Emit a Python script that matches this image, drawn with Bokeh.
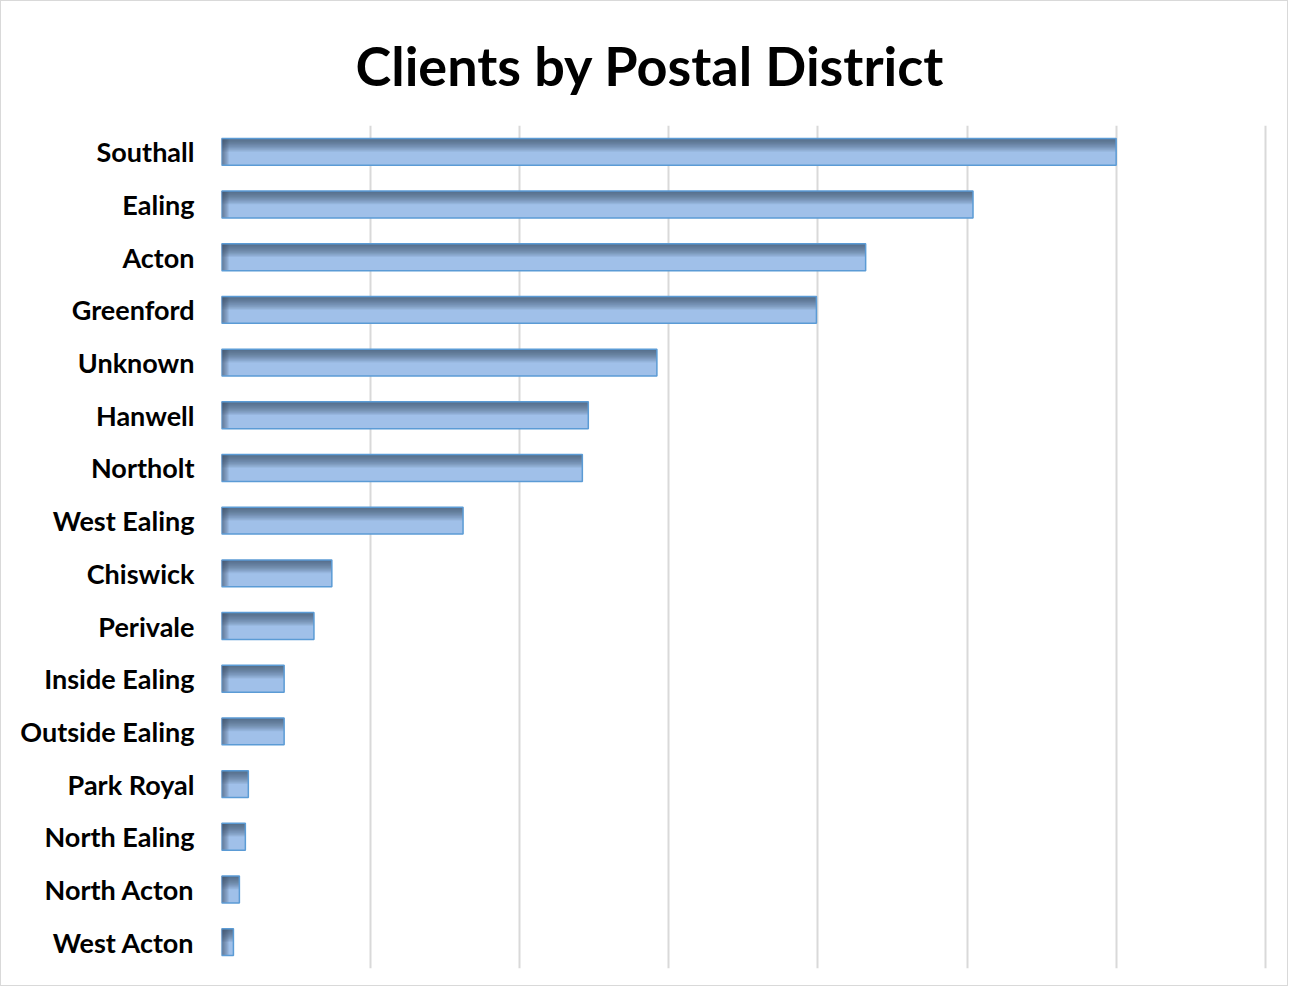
import numpy as np
from bokeh.plotting import figure
from bokeh.models import ColumnDataSource, FixedTicker
from bokeh.transform import dodge
from bokeh.embed import file_html
from bokeh.resources import INLINE

districts = ["Southall", "Ealing", "Acton", "Greenford", "Unknown", "Hanwell",
             "Northolt", "West Ealing", "Chiswick", "Perivale", "Inside Ealing",
             "Outside Ealing", "Park Royal", "North Ealing", "North Acton", "West Acton"]
clients = [600, 504, 432, 399, 292, 246, 242, 162, 74, 62, 42, 42, 18, 16, 12, 8]
grid_ticks = [0, 100, 200, 300, 400, 500, 600, 700]

factors = districts[::-1]
src = ColumnDataSource(dict(d=districts, v=clients))

p = figure(width=1288, height=986, y_range=factors, x_range=(0, 701.5),
           output_backend="svg", toolbar_location=None,
           min_border_left=220, min_border_right=22, min_border_top=124, min_border_bottom=19,
           styles={"border": "1px solid #d9d9d9"})

p.title.text = "Clients by Postal District"
p.title.text_font = "Lato"
p.title.text_font_size = "54px"
p.title.text_font_style = "bold"
p.title.text_color = "#000000"
p.title.align = "left"
p.title.offset = 134
p.title.standoff = 55

BH = 0.51
# base bar
p.hbar(y="d", right="v", left=0, height=BH, source=src,
       fill_color="#a0c0e9", line_color=None)
# top shading gradient
N = 12
for k in range(1, N + 1):
    h = 0.021 * k
    p.hbar(y=dodge("d", BH / 2 - h / 2, range=p.y_range), right="v", left=0, height=h,
           source=src, fill_color="#3b4c63", fill_alpha=0.09, line_color=None)
# left shading gradient
for k in range(1, 7):
    src_k = ColumnDataSource(dict(d=districts, v=list(np.minimum(np.array(clients), 0.8 * k))))
    p.hbar(y="d", right="v", left=0, height=BH, source=src_k,
           fill_color="#3b4c63", fill_alpha=0.13, line_color=None)
# outline
p.hbar(y="d", right="v", left=0, height=BH, source=src,
       fill_color=None, line_color="#5b9bd5", line_width=1.5)

p.xaxis.visible = False
p.xgrid.ticker = FixedTicker(ticks=grid_ticks)
p.xgrid.grid_line_color = "#d9d9d9"
p.xgrid.grid_line_width = 2
p.ygrid.grid_line_color = None
p.outline_line_color = None

ya = p.yaxis[0]
ya.axis_line_color = None
ya.major_tick_line_color = None
ya.minor_tick_line_color = None
ya.major_label_text_font = "Lato"
ya.major_label_text_font_size = "27px"
ya.major_label_text_font_style = "bold"
ya.major_label_text_color = "#000000"
ya.major_label_standoff = 21

open("out.html", "w").write(file_html(p, INLINE))
